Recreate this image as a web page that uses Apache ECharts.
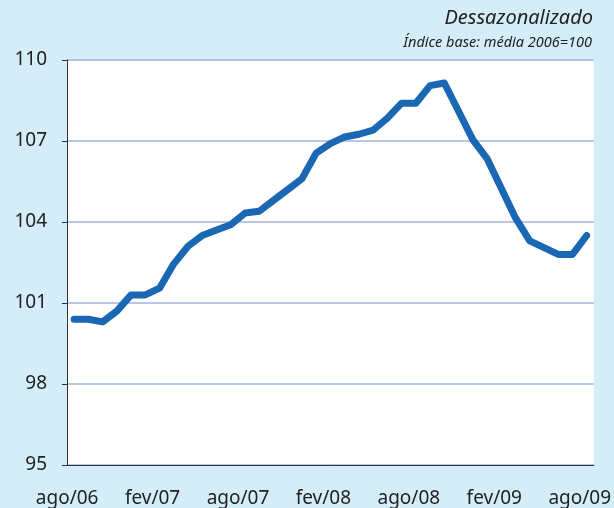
<!DOCTYPE html>
<html>
<head>
<meta charset="utf-8">
<script src="https://cdn.jsdelivr.net/npm/echarts@6/dist/echarts.min.js"></script>
<style>
  html, body { margin: 0; padding: 0; background: #d5ecf9; }
  #chart { width: 614px; height: 508px; }
</style>
</head>
<body>
<div id="chart"></div>
<script>
// meses de ago/06 a ago/09
var meses = ['ago/06','set/06','out/06','nov/06','dez/06','jan/07',
  'fev/07','mar/07','abr/07','mai/07','jun/07','jul/07',
  'ago/07','set/07','out/07','nov/07','dez/07','jan/08',
  'fev/08','mar/08','abr/08','mai/08','jun/08','jul/08',
  'ago/08','set/08','out/08','nov/08','dez/08','jan/09',
  'fev/09','mar/09','abr/09','mai/09','jun/09','jul/09','ago/09'];

var indice = [100.4, 100.4, 100.3, 100.7, 101.3, 101.3,
  101.55, 102.45, 103.1, 103.5, 103.7, 103.9,
  104.33, 104.4, 104.8, 105.2, 105.6, 106.55,
  106.9, 107.15, 107.25, 107.4, 107.85, 108.4,
  108.4, 109.05, 109.15, 108.1, 107.05, 106.35,
  105.25, 104.15, 103.3, 103.05, 102.8, 102.8, 103.5];

var yTicks = [95, 98, 101, 104, 107, 110];

var myChart = echarts.init(document.getElementById('chart'));

var option = {
  backgroundColor: '#d5ecf9',
  textStyle: { fontFamily: 'Noto Sans' },
  title: [{
    text: 'Dessazonalizado',
    right: 16,
    top: 3,
    textStyle: { fontSize: 20, fontStyle: 'italic', fontWeight: 'normal', color: '#222' }
  }, {
    text: 'Índice base: média 2006=100',
    right: 17,
    top: 30,
    textStyle: { fontSize: 14.5, fontStyle: 'italic', fontWeight: 'normal', color: '#222' }
  }],
  grid: {
    left: 67, right: 18, top: 60, bottom: 43,
    show: true, backgroundColor: '#ffffff', borderWidth: 0
  },
  xAxis: {
    type: 'category',
    data: meses,
    boundaryGap: true,
    axisLine: { lineStyle: { color: '#333', width: 1 } },
    axisTick: { interval: 5, length: 6, lineStyle: { color: '#333' } },
    axisLabel: {
      interval: 5,
      margin: 24,
      fontSize: 19,
      color: '#222',
      padding: [0, 14, 0, 0]
    },
    splitLine: { show: false }
  },
  yAxis: {
    type: 'value',
    min: yTicks[0],
    max: yTicks[yTicks.length - 1],
    interval: 3,
    axisLine: { show: true, lineStyle: { color: '#333', width: 1 } },
    axisTick: { show: true, length: 5, lineStyle: { color: '#333' } },
    axisLabel: { margin: 20, fontSize: 19, color: '#222' },
    splitLine: { lineStyle: { color: '#a3b3e0', width: 1.5 } }
  },
  series: [{
    type: 'line',
    data: indice,
    symbol: 'none',
    lineStyle: { color: '#1a67b3', width: 7, cap: 'round', join: 'round' }
  }]
};

myChart.setOption(option);
</script>
</body>
</html>
